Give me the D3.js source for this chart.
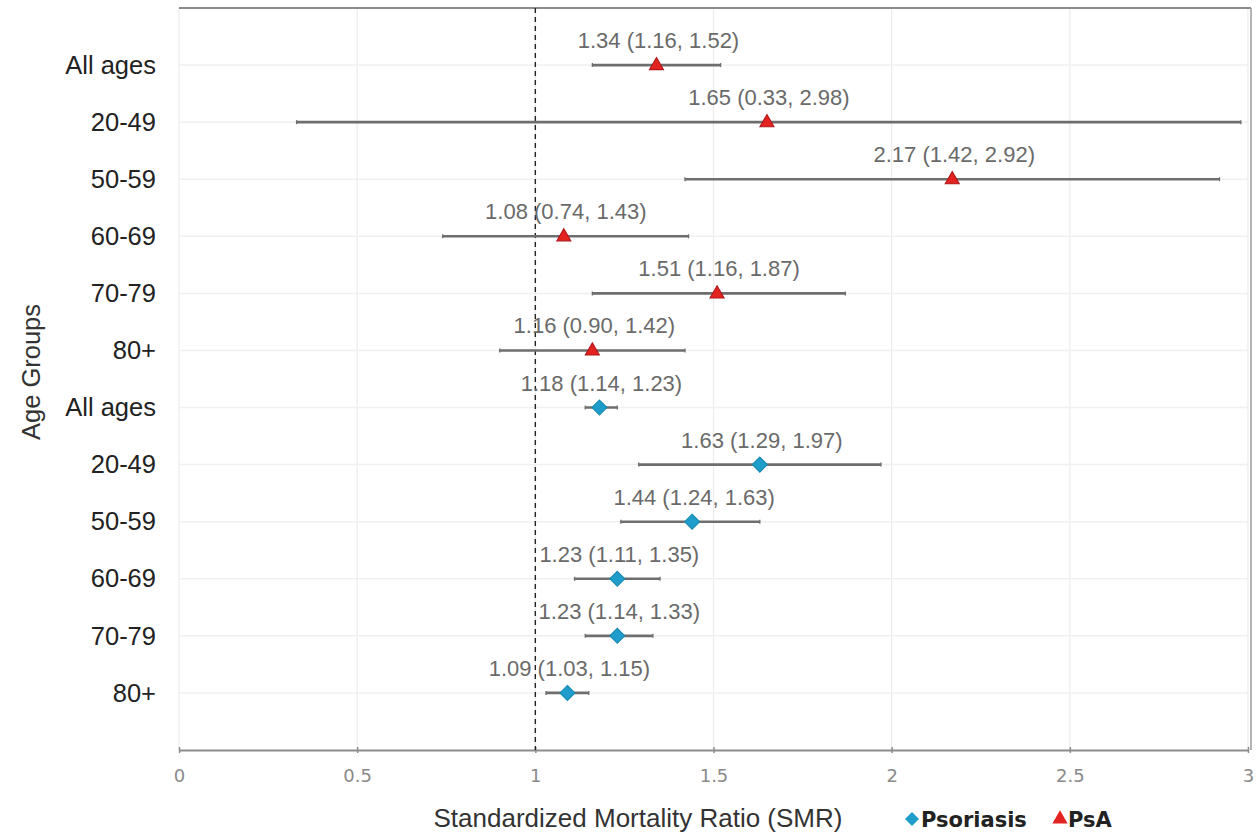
<!DOCTYPE html>
<html><head><meta charset="utf-8">
<script src="https://cdn.jsdelivr.net/npm/d3@7"></script>
<style>
html,body{margin:0;padding:0;background:#fff;}
svg{display:block;font-family:"Liberation Sans",Arial,sans-serif;}
</style></head>
<body><svg id="c" width="1260" height="834"></svg>
<script>
const ageLabels = ["All ages","20-49","50-59","60-69","70-79","80+","All ages","20-49","50-59","60-69","70-79","80+"];
const series = ["PsA","PsA","PsA","PsA","PsA","PsA","Psoriasis","Psoriasis","Psoriasis","Psoriasis","Psoriasis","Psoriasis"];
const smr   = [1.34,1.65,2.17,1.08,1.51,1.16, 1.18,1.63,1.44,1.23,1.23,1.09];
const lower = [1.16,0.33,1.42,0.74,1.16,0.90, 1.14,1.29,1.24,1.11,1.14,1.03];
const upper = [1.52,2.98,2.92,1.43,1.87,1.42, 1.23,1.97,1.63,1.35,1.33,1.15];
const xTicks = [0,0.5,1,1.5,2,2.5,3];
const xTickLabels = ["0","0.5","1","1.5","2","2.5","3"];
const legendItems = ["Psoriasis","PsA"];

const svg = d3.select("#c");
const m = {l:179, r:1248, t:8, b:750};
const x = d3.scaleLinear().domain([0,3]).range([m.l, m.r]);
const idx = d3.range(ageLabels.length);
const y = d3.scalePoint().domain(idx).range([m.t, m.b]).padding(1);
const colors = {PsA:"#e3231f", Psoriasis:"#1e9dcb"};
const strokes = {PsA:"#b0161a", Psoriasis:"#1a88b0"};

function diamond(r){ return `M0,${-r}L${r},0L0,${r}L${-r},0Z`; }
const tri = d3.symbol().type(d3.symbolTriangle).size(85);

// gridlines
svg.append("g").selectAll("line").data(xTicks).join("line")
  .attr("x1",d=>x(d)).attr("x2",d=>x(d)).attr("y1",m.t).attr("y2",m.b)
  .attr("stroke","#ececec").attr("stroke-width",1.2);
svg.append("g").selectAll("line").data(idx).join("line")
  .attr("x1",m.l).attr("x2",x(3)).attr("y1",d=>y(d)).attr("y2",d=>y(d))
  .attr("stroke","#f0f0f0").attr("stroke-width",1.5);

// border top & right
svg.append("line").attr("x1",m.l).attr("x2",x(3)+3).attr("y1",m.t).attr("y2",m.t).attr("stroke","#8c8c8c").attr("stroke-width",2);
svg.append("line").attr("x1",x(3)+3).attr("x2",x(3)+3).attr("y1",m.t).attr("y2",m.b).attr("stroke","#9a9a9a").attr("stroke-width",1.5);

// x axis
const xAxis = d3.axisBottom(x).tickValues(xTicks).tickFormat((d,i)=>xTickLabels[i]).tickSize(6).tickSizeOuter(0);
const gx = svg.append("g").attr("transform",`translate(0,${m.b})`).call(xAxis);
gx.select(".domain").attr("stroke","#8c8c8c").attr("stroke-width",2);
gx.selectAll(".tick line").attr("stroke","#8c8c8c").attr("stroke-width",1.5).attr("y1",-3).attr("y2",3);
gx.selectAll(".tick text").attr("fill","#8a8a8a").attr("font-size",18).attr("dy","1.3em")
  .attr("font-family","'DejaVu Sans',sans-serif");

// y axis labels
const yAxis = d3.axisLeft(y).tickFormat(i=>ageLabels[i]).tickSize(0).tickPadding(23);
const gy = svg.append("g").attr("transform",`translate(${m.l},0)`).call(yAxis);
gy.select(".domain").remove();
gy.selectAll(".tick text").attr("fill","#222").attr("font-size",25.5)
  .attr("font-family","'Liberation Sans',Arial,sans-serif");

// reference line at 1
svg.append("line").attr("x1",x(1)).attr("x2",x(1)).attr("y1",m.t).attr("y2",m.b)
  .attr("stroke","#222").attr("stroke-width",1.4).attr("stroke-dasharray","5,4");

// error bars
const eb = svg.append("g");
eb.selectAll("line.ci").data(idx).join("line").attr("class","ci")
  .attr("x1",i=>x(lower[i])).attr("x2",i=>x(upper[i])).attr("y1",i=>y(i)).attr("y2",i=>y(i))
  .attr("stroke","#6e6e6e").attr("stroke-width",2.6);
eb.selectAll("line.capl").data(idx).join("line").attr("class","capl")
  .attr("x1",i=>x(lower[i])).attr("x2",i=>x(lower[i])).attr("y1",i=>y(i)-2).attr("y2",i=>y(i)+2)
  .attr("stroke","#6e6e6e").attr("stroke-width",1.3);
eb.selectAll("line.capu").data(idx).join("line").attr("class","capu")
  .attr("x1",i=>x(upper[i])).attr("x2",i=>x(upper[i])).attr("y1",i=>y(i)-2).attr("y2",i=>y(i)+2)
  .attr("stroke","#6e6e6e").attr("stroke-width",1.3);

// markers
svg.append("g").selectAll("path").data(idx).join("path")
  .attr("d",i=>series[i]==="PsA"?tri():diamond(7.5))
  .attr("transform",i=>`translate(${x(smr[i])},${y(i)+(series[i]==="PsA"?0.5:0)})`)
  .attr("fill",i=>colors[series[i]]).attr("stroke",i=>strokes[series[i]]).attr("stroke-width",1.1);

// value labels
svg.append("g").selectAll("text").data(idx).join("text")
  .attr("x",i=>x(smr[i])+2).attr("y",i=>y(i)-17)
  .attr("text-anchor","middle").attr("fill","#6a6a6a").attr("font-size",22)
  .text(i=>`${smr[i].toFixed(2)} (${lower[i].toFixed(2)}, ${upper[i].toFixed(2)})`);

// axis titles
svg.append("text").attr("x",638).attr("y",827).attr("text-anchor","middle")
  .attr("fill","#333").attr("font-size",26).text("Standardized Mortality Ratio (SMR)");
svg.append("text").attr("transform","translate(40,372) rotate(-90)").attr("text-anchor","middle")
  .attr("fill","#333").attr("font-size",25.5).text("Age Groups");

// legend
const lg = svg.append("g").attr("transform","translate(0,819)");
const lx = [912, 1060];
lg.selectAll("path").data(legendItems).join("path")
  .attr("d",d=>d==="PsA"?d3.symbol().type(d3.symbolTriangle).size(100)():diamond(7))
  .attr("transform",(d,i)=>`translate(${lx[i]},${d==="PsA"?0:0})`)
  .attr("fill",d=>colors[d]);
lg.selectAll("text").data(legendItems).join("text")
  .attr("x",(d,i)=>lx[i]+(i===0?9:8)).attr("y",8)
  .attr("fill","#222").attr("font-size",21).attr("font-weight","bold")
  .attr("font-family","'DejaVu Sans',sans-serif")
  .text(d=>d);
</script></body></html>
